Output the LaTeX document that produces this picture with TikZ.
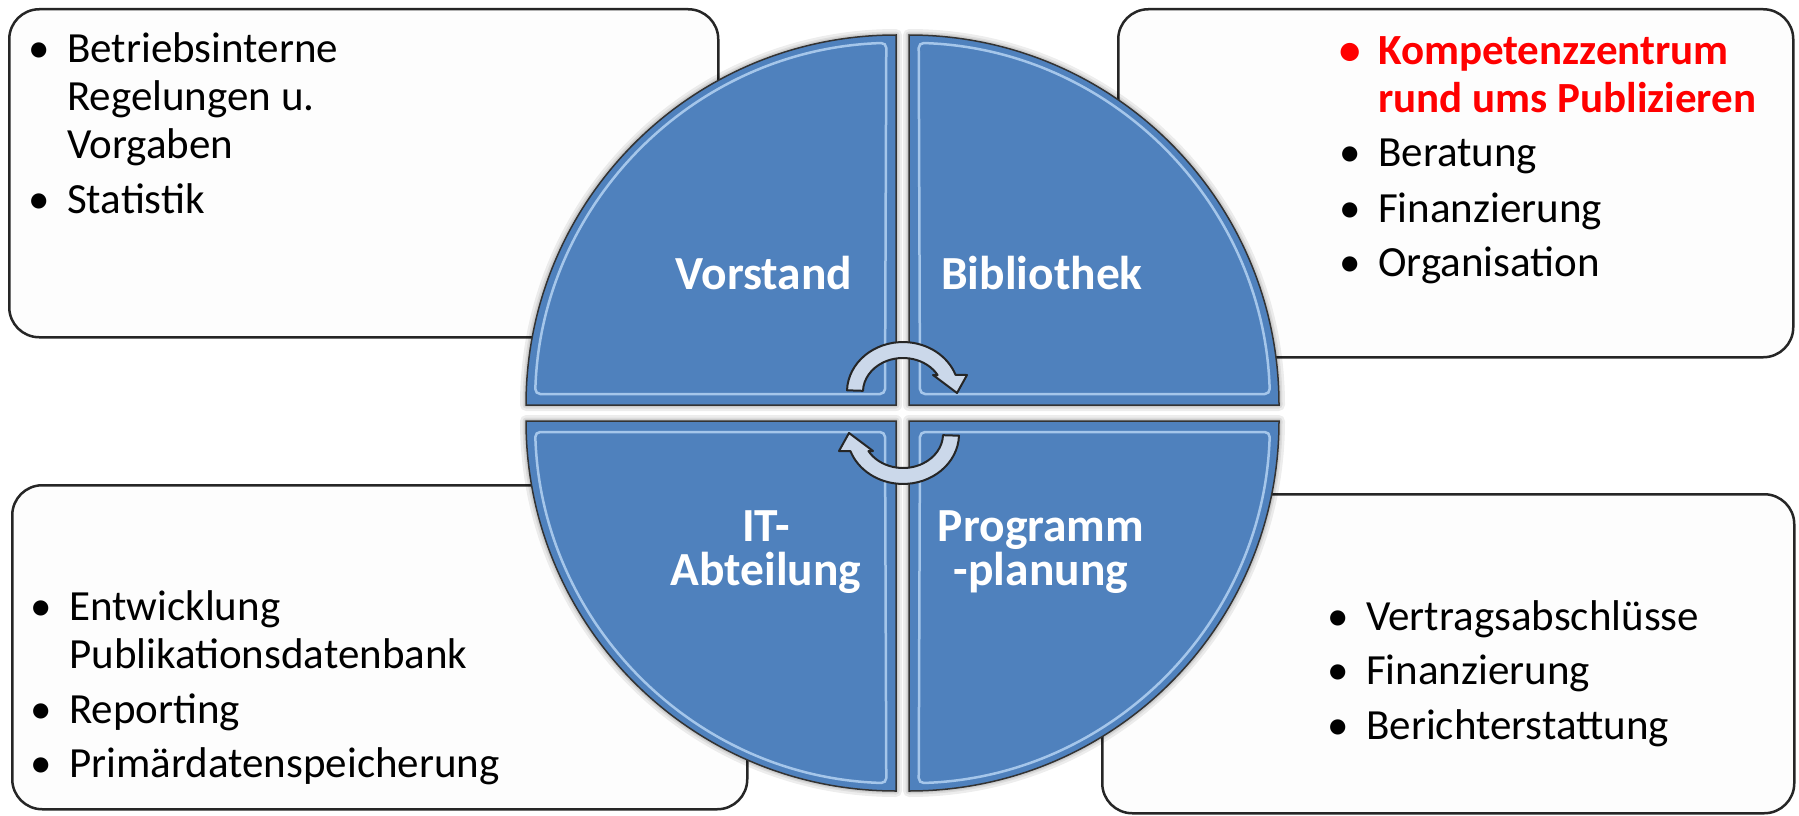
\documentclass[tikz,border=0pt]{standalone}
\usepackage{fontspec}
\setmainfont{Carlito}
\usetikzlibrary{calc}
\definecolor{qblue}{RGB}{79,129,189}
\definecolor{qhl}{RGB}{195,222,250}
\definecolor{arrfill}{RGB}{203,216,234}
\definecolor{boxfill}{RGB}{253,253,253}
\newcommand\bu{\makebox[0pt][r]{\textbullet\hspace{17pt}}}
\newcommand\quadshape{(-6.5,8) -- (-376.5,8) arc[start angle=180,end angle=90,radius=370] -- cycle}
\newcommand\quadhigh{(-17.5,19) -- (-367.3,19) arc[start angle=178.3,end angle=91.7,radius=362] -- cycle}
\newcommand\cycarrow{(847.0,-390.3) arc[start angle=178,end angle=20,x radius=56,y radius=50] -- (967,-375) -- (957,-393) -- (933,-375) -- (937.6,-375) arc[start angle=30,end angle=178,x radius=40,y radius=34] -- cycle}
\begin{document}
\begin{tikzpicture}[x=1pt,y=1pt,
  infobox/.style={draw=black!85, line width=2.5pt, rounded corners=30pt, fill=boxfill, anchor=north west, inner sep=0pt},
  quad/.style={fill=qblue, draw=black!80, line width=1.5pt},
  qhi/.style={draw=qhl, line width=2.5pt, rounded corners=5pt, opacity=0.75},
  qshadow/.style={draw=black, opacity=0.07, line width=#1, line join=round},
  qlabel/.style={text=white, font=\bfseries\fontsize{47.5}{44}\selectfont, align=center, inner sep=0pt},
  listtxt/.style={font=\fontsize{43}{48}\selectfont, anchor=base west, inner sep=0pt},
  cyc/.style={fill=arrfill, draw=black!85, line width=2pt, line join=round}
]
\useasboundingbox (0,0) rectangle (1799,-816);
\fill[white] (0,0) rectangle (1799,-816);

% info boxes
\node[infobox, minimum width=709pt, minimum height=328pt] (tlbox) at (8,-8) {};
\node[infobox, minimum width=675pt, minimum height=348pt] (trbox) at (1117,-8) {};
\node[infobox, minimum width=735pt, minimum height=324pt] (blbox) at (11,-484) {};
\node[infobox, minimum width=692pt, minimum height=319pt] (brbox) at (1101,-493) {};

% box texts
\node[listtxt] (tltext) at (67,-63) {\begin{tabular}[t]{@{}l@{}}
\bu Betriebsinterne\\ Regelungen u.\\ Vorgaben\\[7pt]
\bu Statistik\end{tabular}};
\node[listtxt] (trtext) at (1378,-64) {\begin{tabular}[t]{@{}l@{}}
\color{red}\bfseries\bu Kompetenzzentrum\\ \color{red}\bfseries rund ums Publizieren\\[7pt]
\bu Beratung\\[7pt]
\bu Finanzierung\\[7pt]
\bu Organisation\end{tabular}};
\node[listtxt] (bltext) at (69,-620) {\begin{tabular}[t]{@{}l@{}}
\bu Entwicklung\\ Publikationsdatenbank\\[7pt]
\bu Reporting\\[6pt]
\bu Primärdatenspeicherung\end{tabular}};
\node[listtxt] (brtext) at (1366,-630) {\begin{tabular}[t]{@{}l@{}}
\bu Vertragsabschlüsse\\[6pt]
\bu Finanzierung\\[7pt]
\bu Berichterstattung\end{tabular}};

% quadrants
\begin{scope}[shift={(902.5,-413)}]
  \foreach \sx/\sy in {1/1,-1/1,1/-1,-1/-1}{
    \begin{scope}[xscale=\sx, yscale=\sy]
      \draw[qshadow=12pt] \quadshape;
      \draw[qshadow=7pt] \quadshape;
      \draw[qshadow=4pt] \quadshape;
      \draw[quad] \quadshape;
      \draw[qhi] \quadhigh;
    \end{scope}
  }
\end{scope}

% quadrant labels
\node[qlabel] (vorstand) at (764,-273) {Vorstand};
\node[qlabel] (bibliothek) at (1042,-273) {Bibliothek};
\node[qlabel] (it) at (766,-552) {IT-\\Abteilung};
\node[qlabel] (programm) at (1041,-552) {Programm\\-planung};

% cycle arrows
\draw[cyc] \cycarrow;
\begin{scope}[rotate around={180:(903,-413)}]
  \draw[cyc] \cycarrow;
\end{scope}
\end{tikzpicture}
\end{document}
